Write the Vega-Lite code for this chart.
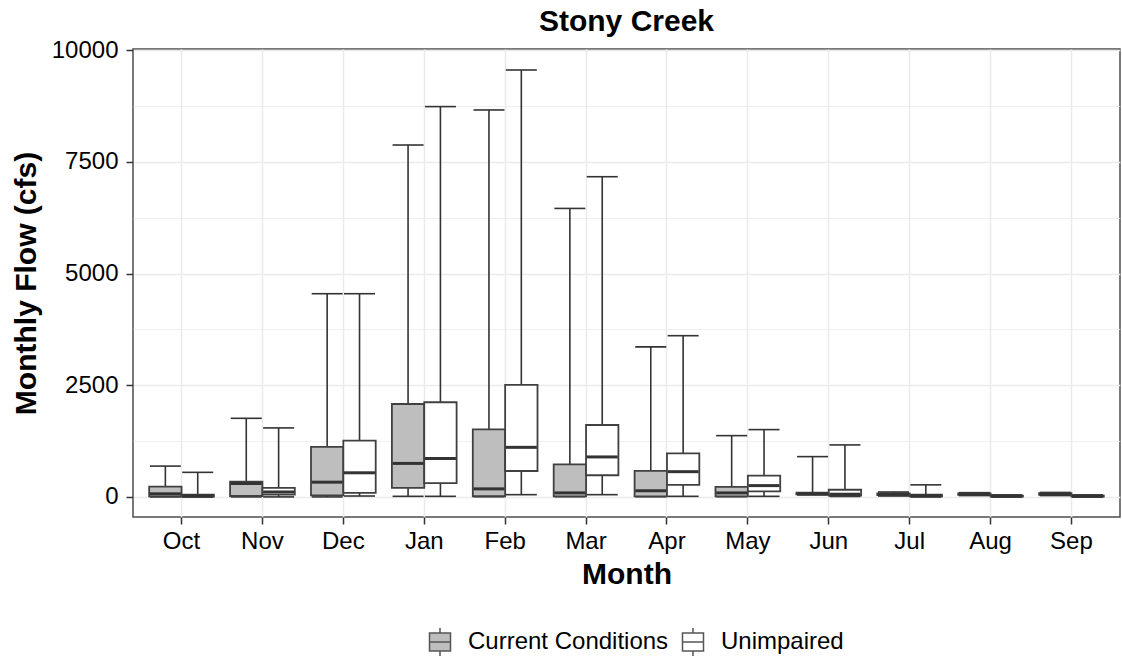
{
  "$schema": "https://vega.github.io/schema/vega-lite/v6.json",
  "width": 987,
  "height": 468,
  "autosize": {"type": "none"},
  "padding": {"left": 133, "top": 49, "right": 2, "bottom": 140},
  "title": {"text": "Stony Creek", "fontSize": 30, "fontWeight": "bold", "font": "Liberation Sans", "color": "black", "anchor": "middle", "offset": 1},
  "config": {
    "font": "Liberation Sans",
    "view": {"stroke": "#4d4d4d", "strokeWidth": 1.5}
  },
  "data": {"values": [
    {"month": "Oct", "group": "Current Conditions", "min": 0, "q1": 10, "median": 70, "q3": 230, "max": 690},
    {"month": "Oct", "group": "Unimpaired", "min": 0, "q1": 5, "median": 20, "q3": 50, "max": 550},
    {"month": "Nov", "group": "Current Conditions", "min": 0, "q1": 20, "median": 300, "q3": 340, "max": 1760},
    {"month": "Nov", "group": "Unimpaired", "min": 0, "q1": 50, "median": 110, "q3": 200, "max": 1545},
    {"month": "Dec", "group": "Current Conditions", "min": 0, "q1": 35, "median": 330, "q3": 1120, "max": 4550},
    {"month": "Dec", "group": "Unimpaired", "min": 20, "q1": 90, "median": 540, "q3": 1260, "max": 4550},
    {"month": "Jan", "group": "Current Conditions", "min": 13, "q1": 200, "median": 750, "q3": 2080, "max": 7880},
    {"month": "Jan", "group": "Unimpaired", "min": 13, "q1": 310, "median": 860, "q3": 2120, "max": 8740},
    {"month": "Feb", "group": "Current Conditions", "min": 5, "q1": 15, "median": 180, "q3": 1510, "max": 8665},
    {"month": "Feb", "group": "Unimpaired", "min": 50, "q1": 580, "median": 1110, "q3": 2510, "max": 9560},
    {"month": "Mar", "group": "Current Conditions", "min": 5, "q1": 13, "median": 90, "q3": 730, "max": 6460},
    {"month": "Mar", "group": "Unimpaired", "min": 50, "q1": 485, "median": 895, "q3": 1610, "max": 7170},
    {"month": "Apr", "group": "Current Conditions", "min": 5, "q1": 13, "median": 140, "q3": 585, "max": 3360},
    {"month": "Apr", "group": "Unimpaired", "min": 13, "q1": 270, "median": 565, "q3": 976, "max": 3610},
    {"month": "May", "group": "Current Conditions", "min": 5, "q1": 13, "median": 90, "q3": 224, "max": 1372},
    {"month": "May", "group": "Unimpaired", "min": 13, "q1": 125, "median": 253, "q3": 477, "max": 1507},
    {"month": "Jun", "group": "Current Conditions", "min": 45, "q1": 55, "median": 70, "q3": 95, "max": 902},
    {"month": "Jun", "group": "Unimpaired", "min": 10, "q1": 30, "median": 60, "q3": 160, "max": 1164},
    {"month": "Jul", "group": "Current Conditions", "min": 20, "q1": 40, "median": 60, "q3": 80, "max": 110},
    {"month": "Jul", "group": "Unimpaired", "min": 0, "q1": 10, "median": 25, "q3": 50, "max": 270},
    {"month": "Aug", "group": "Current Conditions", "min": 30, "q1": 45, "median": 60, "q3": 80, "max": 95},
    {"month": "Aug", "group": "Unimpaired", "min": 0, "q1": 5, "median": 15, "q3": 30, "max": 45},
    {"month": "Sep", "group": "Current Conditions", "min": 30, "q1": 45, "median": 60, "q3": 85, "max": 100},
    {"month": "Sep", "group": "Unimpaired", "min": 0, "q1": 5, "median": 15, "q3": 30, "max": 45}
  ]},
  "encoding": {
    "x": {
      "field": "month", "type": "nominal",
      "sort": ["Oct", "Nov", "Dec", "Jan", "Feb", "Mar", "Apr", "May", "Jun", "Jul", "Aug", "Sep"],
      "scale": {"paddingInner": 0.2, "paddingOuter": 0.2},
      "axis": {"title": "Month", "labelAngle": 0, "bandPosition": 0.5, "grid": true, "gridColor": "#EBEBEB", "gridWidth": 1.5, "domain": false, "tickSize": 7, "tickColor": "#333333", "tickWidth": 1.5, "labelPadding": 5, "labelFontSize": 24, "labelColor": "black", "titleFontSize": 30, "titleFontWeight": "bold", "titleColor": "black", "titlePadding": 6}
    },
    "xOffset": {"field": "group", "type": "nominal", "scale": {"paddingInner": 0, "paddingOuter": 0}}
  },
  "layer": [
    {
      "mark": {"type": "rule", "color": "#333333", "strokeWidth": 1.6},
      "encoding": {
        "y": {"field": "min", "type": "quantitative", "title": "Monthly Flow (cfs)",
          "scale": {"domain": [-450, 10030], "nice": false, "zero": false},
          "axis": {"values": [0, 1250, 2500, 3750, 5000, 6250, 7500, 8750, 10000], "format": "d",
            "labelExpr": "datum.value % 2500 === 0 ? datum.label : ''",
            "tickColor": {"condition": {"test": "datum.value % 2500 === 0", "value": "#333333"}, "value": "transparent"},
            "gridWidth": {"condition": {"test": "datum.value % 2500 === 0", "value": 1.5}, "value": 0.8},
            "gridColor": "#EBEBEB", "domain": false, "tickSize": 7, "tickWidth": 1.5, "labelPadding": 8, "labelFontSize": 24, "labelColor": "black",
            "titleFontSize": 30, "titleFontWeight": "bold", "titleColor": "black", "titlePadding": 10}
        },
        "y2": {"field": "max"}
      }
    },
    {
      "mark": {"type": "tick", "color": "#333333", "opacity": 1, "thickness": 1.6, "size": 31},
      "encoding": {"y": {"field": "min", "type": "quantitative", "title": "Monthly Flow (cfs)"}}
    },
    {
      "mark": {"type": "tick", "color": "#333333", "opacity": 1, "thickness": 1.6, "size": 31},
      "encoding": {"y": {"field": "max", "type": "quantitative", "title": "Monthly Flow (cfs)"}}
    },
    {
      "mark": {"type": "bar", "stroke": "#404040", "strokeWidth": 1.8, "opacity": 1},
      "encoding": {
        "y": {"field": "q1", "type": "quantitative", "title": "Monthly Flow (cfs)"},
        "y2": {"field": "q3"},
        "fill": {"field": "group", "type": "nominal",
          "scale": {"domain": ["Current Conditions", "Unimpaired"], "range": ["#BEBEBE", "#FFFFFF"]},
          "legend": {"title": null, "orient": "none", "legendX": 292, "legendY": 578, "direction": "horizontal",
            "symbolType": "M-0.75,-0.65H0.75V0.65H-0.75Z M-0.75,0H0.75 M0,-0.65V-1 M0,0.65V1",
            "symbolSize": 784, "symbolStrokeColor": "#555555", "symbolStrokeWidth": 1.5, "symbolOpacity": 1,
            "labelFontSize": 24, "labelColor": "black", "labelOffset": 13, "labelLimit": 400, "columnPadding": 9}
        }
      }
    },
    {
      "mark": {"type": "tick", "color": "#333333", "opacity": 1, "thickness": 3, "size": 31},
      "encoding": {"y": {"field": "median", "type": "quantitative", "title": "Monthly Flow (cfs)"}}
    }
  ]
}
